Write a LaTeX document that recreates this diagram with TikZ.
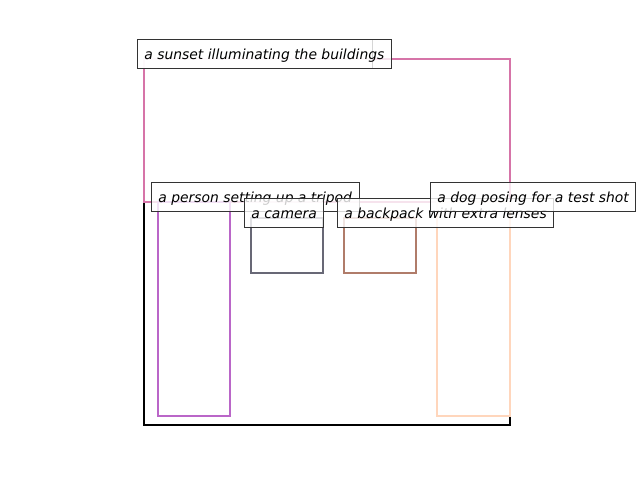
\documentclass[tikz,border=0pt]{standalone}
\usepackage{fontspec}
\setmainfont{DejaVu Sans}
\usepackage{tikz}
\usepackage{xcolor}

\definecolor{sunsetpink}{RGB}{214,116,168}
\definecolor{personpurple}{RGB}{186,102,200}
\definecolor{cameragray}{RGB}{104,104,118}
\definecolor{backpackbrown}{RGB}{176,124,106}
\definecolor{dogpeach}{RGB}{255,214,188}

\tikzset{
    box/.style={line width=1.5pt},
    tag/.style={draw=black!80, line width=0.7pt, fill=white, fill opacity=0.8,
        draw opacity=1, text opacity=1, anchor=base west, inner xsep=5pt,
        inner ysep=0pt, text height=13.7pt, text depth=6.5pt, font=\itshape}
}

\begin{document}
\begin{tikzpicture}[x=0.72pt, y=-0.72pt]
    \useasboundingbox (0, 0) rectangle (640, 480);

    % Boxes
    \draw[line width=1.9pt, black] (144, 202) rectangle (510, 425);  % whole scene
    \draw[box, sunsetpink] (144, 59) rectangle (510, 202);
    \draw[box, personpurple] (158, 202) rectangle (230, 416);
    \draw[box, cameragray] (251, 218) rectangle (323, 273);
    \draw[box, backpackbrown] (344, 218) rectangle (416, 273);
    \draw[box, dogpeach] (437, 202) rectangle (510, 416);

    % Labels
    \node[tag, minimum width=169pt] (hidden) at (137, 59) {};
    \node[tag] (sunset) at (137, 59) {a sunset illuminating the buildings};
    \node[tag] (person) at (151, 202) {a person setting up a tripod};
    \node[tag] (camera) at (244, 218) {a camera};
    \node[tag] (backpack) at (337, 218) {a backpack with extra lenses};
    \node[tag] (dog) at (430, 202) {a dog posing for a test shot};
\end{tikzpicture}
\end{document}
